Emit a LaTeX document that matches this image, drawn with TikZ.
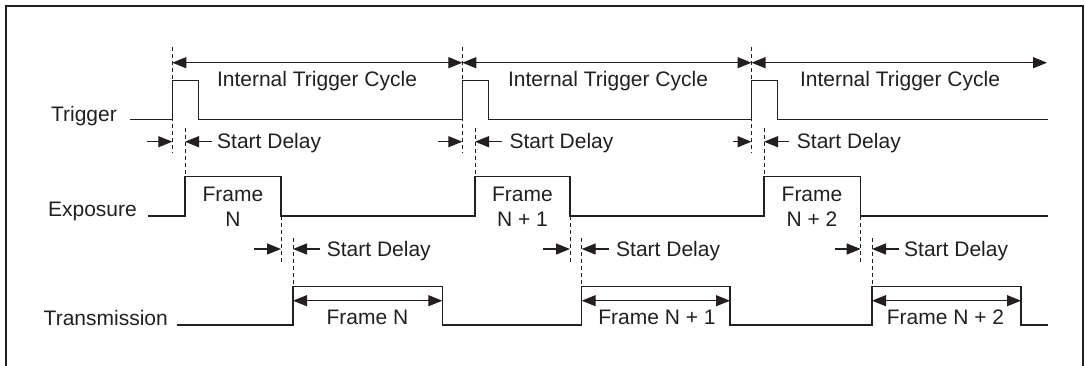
\documentclass[tikz,border=0pt]{standalone}
\usepackage{fontspec}
\setmainfont{Liberation Sans}
\usetikzlibrary{arrows.meta}
\definecolor{ink}{RGB}{35,31,32}
\begin{document}
\begin{tikzpicture}[x=1pt,y=-1pt,
  sig/.style={line width=1.5pt, draw=ink, line join=miter},
  dline/.style={line width=0.9pt, draw=ink, dash pattern=on 4pt off 3pt},
  dimr/.style={line width=1.2pt, draw=ink, -{Triangle[length=14pt,width=11pt]}},
  dimd/.style={line width=1.2pt, draw=ink, {Triangle[length=14pt,width=11pt]}-{Triangle[length=14pt,width=11pt]}},
  lbl/.style={font=\fontsize{21}{25}\selectfont, text=ink, inner sep=0pt, align=center}]
\useasboundingbox (0,0) rectangle (1085,365);
% frame
\draw[line width=2.5pt, draw=ink] (6,368) -- (6,6) -- (1083,6) -- (1083,368);

% row labels
\node[lbl, anchor=base east] (ltrig) at (117,121) {Trigger};
\node[lbl, anchor=base east] (lexp) at (137,216.7) {Exposure};
\node[lbl, anchor=base east] (ltx) at (168,325.7) {Transmission};

% trigger signal
\draw[sig] (130,119.5) -- (172.3,119.5) -- (172.3,80.7) -- (198.3,80.7) -- (198.3,119.5)
  -- (462.3,119.5) -- (462.3,80.7) -- (488.3,80.7) -- (488.3,119.5)
  -- (751.5,119.5) -- (751.5,80.7) -- (777.7,80.7) -- (777.7,119.5) -- (1047.7,119.5);

% exposure signal
\draw[sig] (147.7,216) -- (185,216) -- (185,176.7) -- (281,176.7) -- (281,216)
  -- (475,216) -- (475,176.7) -- (570,176.7) -- (570,216)
  -- (764,216) -- (764,176.7) -- (860.7,176.7) -- (860.7,216) -- (1047.7,216);

% transmission signal
\draw[sig] (176.7,325) -- (293,325) -- (293,286.7) -- (442.3,286.7) -- (442.3,325)
  -- (581.7,325) -- (581.7,286.7) -- (730,286.7) -- (730,325)
  -- (872,325) -- (872,286.7) -- (1021,286.7) -- (1021,325) -- (1047.7,325);

% dashed marker lines
\foreach \x in {172.3,462.3,751.5} \draw[dline] (\x,47) -- (\x,153);
\foreach \x in {185,475,764} \draw[dline] (\x,128) -- (\x,176.7);
\foreach \x in {281,570,860.7} \draw[dline] (\x,216) -- (\x,262);
\foreach \x in {293,581.7,872} \draw[dline] (\x,238) -- (\x,286.7);

% internal trigger cycle arrows
\draw[dimd] (172.3,62.7) -- (462.3,62.7);
\draw[dimd] (462.3,62.7) -- (751.5,62.7);
\draw[dimd] (751.5,62.7) -- (1047,62.7);
\node[lbl, anchor=base] (c1) at (317,86) {Internal Trigger Cycle};
\node[lbl, anchor=base] (c2) at (608,86) {Internal Trigger Cycle};
\node[lbl, anchor=base] (c3) at (900,86) {Internal Trigger Cycle};

% start delay (trigger -> exposure)
\draw[dimr] (146.7,141.7) -- (172.3,141.7);
\draw[dimr] (212,141.7) -- (185,141.7);
\node[lbl, anchor=base west] (sd1) at (217,148.3) {Start Delay};
\draw[dimr] (438.3,141.7) -- (462.3,141.7);
\draw[dimr] (502,141.7) -- (475,141.7);
\node[lbl, anchor=base west] (sd2) at (509.3,148.3) {Start Delay};
\draw[dimr] (733,141.7) -- (751.5,141.7);
\draw[dimr] (789,141.7) -- (764,141.7);
\node[lbl, anchor=base west] (sd3) at (796.7,148.3) {Start Delay};

% start delay (exposure -> transmission)
\draw[dimr] (254.3,249) -- (281,249);
\draw[dimr] (320,249) -- (293,249);
\node[lbl, anchor=base west] (se1) at (326.7,256) {Start Delay};
\draw[dimr] (543.3,249) -- (570,249);
\draw[dimr] (609,249) -- (581.7,249);
\node[lbl, anchor=base west] (se2) at (616,256) {Start Delay};
\draw[dimr] (835,249) -- (860.7,249);
\draw[dimr] (899,249) -- (872,249);
\node[lbl, anchor=base west] (se3) at (904,256) {Start Delay};

% exposure frame labels
\node[lbl, anchor=base] (f1a) at (233,201.7) {Frame};
\node[lbl, anchor=base] (f1b) at (233,226.7) {N};
\node[lbl, anchor=base] (f2a) at (522.5,201.7) {Frame};
\node[lbl, anchor=base] (f2b) at (522.5,226.7) {N + 1};
\node[lbl, anchor=base] (f3a) at (812,201.7) {Frame};
\node[lbl, anchor=base] (f3b) at (812,226.7) {N + 2};

% transmission arrows and labels
\draw[dimd] (293,300.7) -- (442.3,300.7);
\draw[dimd] (581.7,300.7) -- (730,300.7);
\draw[dimd] (872,300.7) -- (1021,300.7);
\node[lbl, anchor=base] (t1) at (367.5,324) {Frame N};
\node[lbl, anchor=base] (t2) at (657,324) {Frame N + 1};
\node[lbl, anchor=base] (t3) at (945.5,324) {Frame N + 2};
\end{tikzpicture}
\end{document}
